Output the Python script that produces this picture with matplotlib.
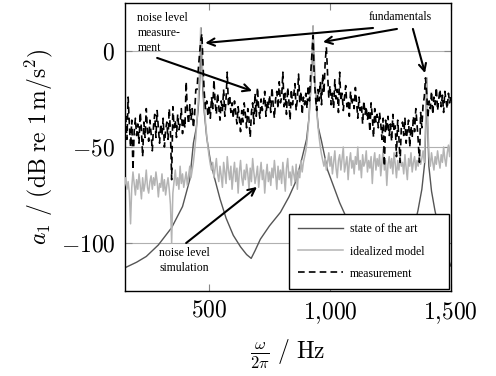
import numpy as np
import matplotlib
matplotlib.use("Agg")
import matplotlib.pyplot as plt

plt.rcParams["mathtext.fontset"] = "cm"
plt.rcParams["font.family"] = ["Liberation Serif", "DejaVu Serif"]

# ── data ─────────────────────────────────────────────────────────────────────
# state of the art (smooth resonance curves)
f_soa = [150, 200, 240, 290, 345, 390, 420, 435, 447, 455, 460, 464, 467, 470,
         474, 480, 490, 505, 520, 545, 570, 600, 630, 655, 674, 690, 712, 750,
         795, 830, 855, 880, 903, 912, 918, 924, 927, 930, 933, 937, 943, 952,
         965, 990, 1040, 1065, 1100, 1150, 1200, 1250, 1300, 1340, 1364, 1380,
         1392, 1397, 1400, 1403, 1409, 1420, 1434, 1460, 1500]
a_soa = [-113, -110, -107, -101, -92, -81, -67, -48, -40, -30, -20, -5, 12, -5,
         -20, -32, -45, -57, -65, -77, -87, -96, -102, -106, -108, -104, -98, -91,
         -84, -76, -69, -58, -46, -36, -25, -12, -2, 13, -2, -14, -28, -40,
         -47, -62, -79, -86, -95, -105, -112, -114, -110, -96, -83, -72,
         -58, -35, -14, -35, -60, -73, -83, -98, -112]

# frequency grid of idealized model and measurement (5 Hz steps)
f_grid = np.arange(150, 1501, 5)

a_ideal = [
    -70, -66, -72, -68, -74, -90, -71, -63, -69, -75,   # 150
    -67, -72, -64, -70, -77, -66, -73, -69, -62, -71,   # 200
    -74, -68, -65, -72, -66, -70, -63, -68, -76, -69,   # 250
    -71, -64, -73, -67, -75, -70, -66, -72, -80, -100,  # 300
    -74, -68, -62, -70, -66, -72, -60, -69, -64, -71,   # 350
    -67, -63, -70, -65, -60, -66, -62, -58, -52, -45,   # 400
    -36, -26, -12, 12, 0, -16, -28, -37, -44, -50,      # 450
    -55, -59, -62, -58, -66, -61, -56, -64, -68, -60,   # 500
    -65, -71, -58, -63, -69, -55, -62, -67, -60, -72,   # 550
    -64, -58, -68, -61, -74, -63, -57, -66, -70, -62,   # 600
    -67, -59, -64, -72, -61, -68, -56, -63, -69, -65,   # 650
    -60, -71, -64, -58, -67, -62, -74, -65, -59, -68,   # 700
    -63, -70, -61, -66, -57, -64, -72, -60, -67, -62,   # 750
    -69, -58, -65, -73, -61, -56, -66, -63, -70, -60,   # 800
    -64, -68, -59, -72, -62, -66, -57, -63, -58, -55,   # 850
    -52, -47, -40, -32, -20, -4, 13, -4, -20, -31,      # 900
    -39, -45, -50, -54, -57, -60, -56, -62, -58, -53,   # 950
    -60, -55, -64, -58, -52, -61, -66, -57, -54, -62,   # 1000
    -56, -50, -63, -59, -55, -67, -58, -53, -61, -57,   # 1050
    -64, -55, -59, -50, -62, -57, -66, -54, -60, -58,   # 1100
    -52, -63, -57, -61, -55, -69, -58, -53, -62, -56,   # 1150
    -60, -54, -65, -58, -51, -62, -57, -70, -59, -55,   # 1200
    -61, -56, -64, -53, -59, -66, -57, -62, -55, -60,   # 1250
    -58, -64, -54, -61, -67, -56, -60, -53, -63, -58,   # 1300
    -55, -62, -57, -60, -54, -59, -56, -52, -58, -40,   # 1350
    -14, -40, -55, -60, -53, -58, -62, -55, -59, -52,   # 1400
    -57, -61, -54, -58, -50, -56, -60, -53, -49, -55,   # 1450
    -46,                                                # 1500
]

a_meas = [
    -40, -34, -46, -24, -38, -50, -36, -62, -42, -35,   # 150
    -44, -38, -48, -32, -41, -55, -37, -45, -30, -42,   # 200
    -47, -36, -43, -52, -39, -33, -45, -31, -40, -48,   # 250
    -38, -44, -35, -50, -41, -37, -46, -30, -42, -67,   # 300
    -29, -40, -36, -45, -33, -41, -38, -30, -43, -35,   # 350
    -40, -16, -32, -38, -28, -36, -30, -40, -33, -20,   # 400
    -20, -10, -2, 5, 9, -8, -22, -30, -26, -34,         # 450
    -28, -35, -24, -30, -15, -27, -33, -22, -29, -36,   # 500
    -26, -31, -20, -34, -25, -11, -29, -23, -32, -27,   # 550
    -35, -26, -32, -38, -29, -35, -42, -31, -37, -27,   # 600
    -33, -40, -30, -36, -45, -32, -27, -38, -22, -34,   # 650
    -19, -30, -35, -25, -31, -27, -21, -34, -26, -30,   # 700
    -23, -32, -19, -28, -35, -25, -21, -30, -16, -27,   # 750
    -24, -11, -29, -22, -33, -19, -26, -36, -20, -28,   # 800
    -23, -17, -31, -25, -12, -27, -21, -33, -24, -28,   # 850
    -22, -30, -18, -26, -12, -2, 8, -14, -24, -31,      # 900
    -20, -26, -16, -28, -12, -22, -6, 2, -12, -24,      # 950
    -18, -28, -22, -30, -15, -25, -20, -32, -11, -26,   # 1000
    -22, -31, -24, -18, -29, -26, -34, -21, -28, -25,   # 1050
    -30, -19, -27, -35, -24, -31, -28, -38, -26, -33,   # 1100
    -29, -36, -31, -42, -27, -34, -45, -30, -37, -33,   # 1150
    -40, -32, -38, -46, -35, -60, -36, -41, -34, -44,   # 1200
    -38, -47, -33, -42, -39, -55, -36, -45, -58, -40,   # 1250
    -37, -44, -35, -48, -41, -36, -50, -39, -45, -34,   # 1300
    -42, -30, -38, -47, -58, -32, -40, -28, -24, -14,   # 1350
    -22, -35, -26, -30, -21, -33, -24, -28, -19, -31,   # 1400
    -25, -20, -29, -23, -32, -21, -26, -30, -22, -27,   # 1450
    -24,                                                # 1500
]

x_ticks = [500, 1000, 1500]
x_ticklabels = [r"$500$", r"$1{,}000$", r"$1{,}500$"]
y_ticks = [-100, -50, 0]
y_ticklabels = [r"$-100$", r"$-50$", r"$0$"]

# ── figure ───────────────────────────────────────────────────────────────────
fig = plt.figure(figsize=(4.96, 3.76), dpi=100)
ax = fig.add_axes([0.252, 0.226, 0.657, 0.766])

ax.plot(f_soa, a_soa, color="#555555", lw=1.0, zorder=2, label="state of the art")
ax.plot(f_grid, a_ideal, color="#b4b4b4", lw=1.1, zorder=3, label="idealized model")
ax.plot(f_grid, a_meas, color="black", lw=1.2, ls=(0, (4, 2.5)), zorder=4,
        label="measurement")

ax.set_xlim(152, 1500)
ax.set_ylim(-125, 25)
ax.set_xticks(x_ticks)
ax.set_xticklabels(x_ticklabels, fontsize=17)
ax.set_yticks(y_ticks)
ax.set_yticklabels(y_ticklabels, fontsize=17)
ax.tick_params(direction="in", length=5, width=0.8, color="#888888",
               top=True, right=True, pad=7)
ax.yaxis.grid(True, color="#b0b0b0", lw=0.8)
ax.set_axisbelow(True)
for sp in ax.spines.values():
    sp.set_linewidth(1.0)

ax.set_xlabel(r"$\frac{\omega}{2\pi}\ /\ \mathrm{Hz}$", fontsize=17, labelpad=8)
ax.set_ylabel(r"$a_1\ /\ (\mathrm{dB\ re\ 1\,m/s^2})$", fontsize=17, labelpad=4)

# annotations
arrow = dict(arrowstyle="->", lw=1.5, color="black", shrinkA=0, shrinkB=0,
             mutation_scale=13)
ax.text(203, 20.5, "noise level\nmeasure-\nment", fontsize=8.5, va="top",
        ha="left", linespacing=1.35, zorder=6)
ax.annotate("", xy=(678, -20.8), xytext=(285, -3.6), arrowprops=arrow, zorder=6)

ax.text(1289, 17.7, "fundamentals", fontsize=8.5, ha="center", va="center",
        zorder=6)
ax.annotate("", xy=(484, 4.2), xytext=(1178, 12), arrowprops=arrow, zorder=6)
ax.annotate("", xy=(971, 4.7), xytext=(1277, 11.5), arrowprops=arrow, zorder=6)
ax.annotate("", xy=(1393, -11.5), xytext=(1343, 11.5), arrowprops=arrow, zorder=6)

ax.text(293, -109, "noise level\nsimulation", fontsize=8.5, ha="left",
        va="center", linespacing=1.35, zorder=6)
ax.annotate("", xy=(698, -70.8), xytext=(405, -100), arrowprops=arrow, zorder=6)

leg = ax.legend(loc="lower left", bbox_to_anchor=(0.503, 0.007, 0.491, 0.274),
                mode="expand", fontsize=8.5, frameon=True, fancybox=False,
                framealpha=1, edgecolor="black", handlelength=3.8,
                handletextpad=0.6, labelspacing=0.85, borderpad=0.8,
                borderaxespad=0)
leg.get_frame().set_linewidth(1.0)
leg.set_zorder(7)

fig.savefig("out.png", dpi=100)
